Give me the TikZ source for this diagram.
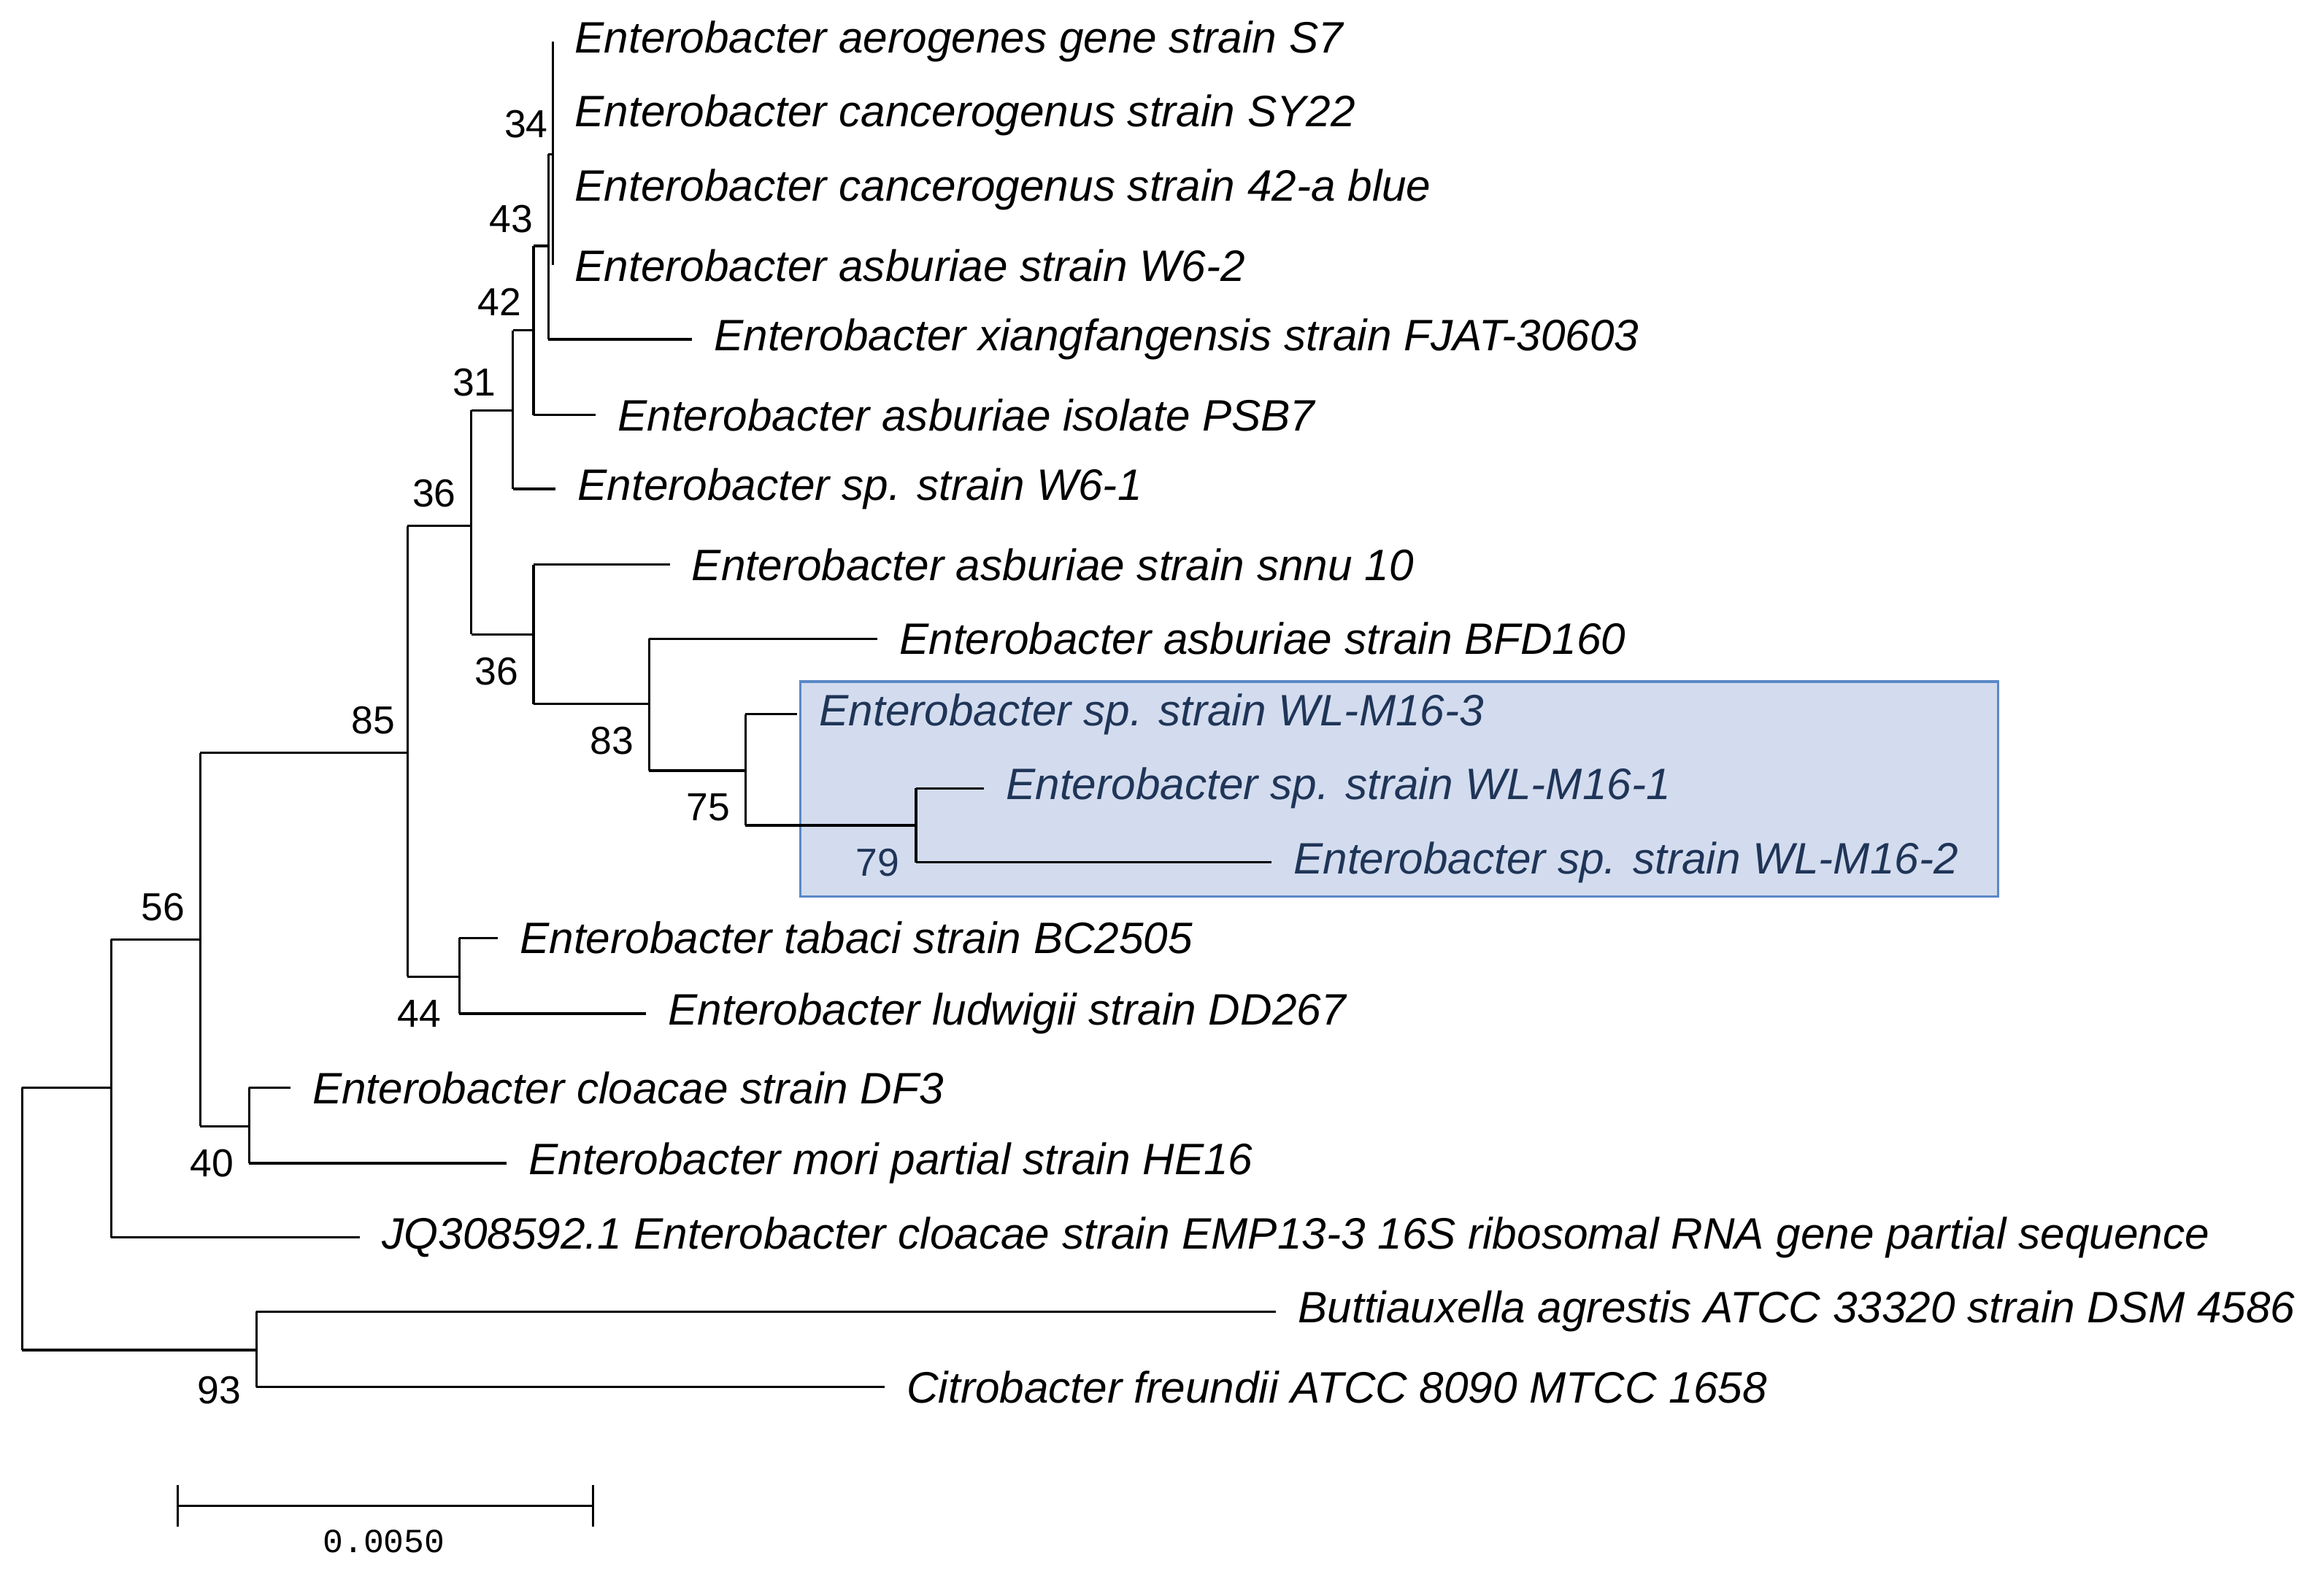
\documentclass[tikz,border=0pt]{standalone}
\usepackage{fontspec}
\setmainfont{Liberation Sans}
\newfontfamily\monof{Liberation Mono}
\definecolor{boxfill}{HTML}{D3DCEE}
\definecolor{boxline}{HTML}{5A88C6}
\definecolor{boxtext}{HTML}{1F3558}
\begin{document}
\begin{tikzpicture}[x=0.02cm,y=-0.02cm,line width=0.9pt,
 leaf/.style={anchor=west,font=\fontsize{16.9}{19}\selectfont\itshape,inner sep=0pt,xshift=8},
 bl/.style={leaf,text=boxtext},
 bs/.style={font=\fontsize{15}{17}\selectfont,inner sep=0pt}]
\useasboundingbox (0,0) rectangle (1568,1064);
\fill[boxfill, draw=boxline] (540,460) rectangle (1348,605);
\coordinate (R) at (15,823);
\coordinate (A) at (75,734);
\coordinate (B) at (135,634);
\coordinate (C) at (275,508);
\coordinate (D) at (168,760);
\coordinate (E) at (173,911);
\coordinate (F) at (318,355);
\coordinate (G) at (310,659);
\coordinate (H) at (346,277);
\coordinate (I) at (360,428);
\coordinate (J) at (438,475);
\coordinate (K) at (503,520);
\coordinate (L) at (618,557);
\coordinate (M) at (360,223);
\coordinate (N) at (370,166);
\coordinate (O) at (373,104);
\coordinate (l1) at (373,28);   \node[leaf] (t1) at (l1) {Enterobacter aerogenes gene strain S7};
\coordinate (l2) at (373,78);   \node[leaf] (t2) at (l2) {Enterobacter cancerogenus strain SY22};
\coordinate (l3) at (373,128);  \node[leaf] (t3) at (l3) {Enterobacter cancerogenus strain 42-a blue};
\coordinate (l4) at (373,179);  \node[leaf] (t4) at (l4) {Enterobacter asburiae strain W6-2};
\coordinate (l5) at (467,229);  \node[leaf] (t5) at (l5) {Enterobacter xiangfangensis strain FJAT-30603};
\coordinate (l6) at (402,280);  \node[leaf] (t6) at (l6) {Enterobacter asburiae isolate PSB7};
\coordinate (l7) at (375,330);  \node[leaf] (t7) at (l7) {Enterobacter sp. strain W6-1};
\coordinate (l8) at (452,381);  \node[leaf] (t8) at (l8) {Enterobacter asburiae strain snnu 10};
\coordinate (l9) at (592,431);  \node[leaf] (t9) at (l9) {Enterobacter asburiae strain BFD160};
\coordinate (l10) at (538,482); \node[bl] (t10) at (l10) {Enterobacter sp. strain WL-M16-3};
\coordinate (l11) at (664,532); \node[bl] (t11) at (l11) {Enterobacter sp. strain WL-M16-1};
\coordinate (l12) at (858,582); \node[bl] (t12) at (l12) {Enterobacter sp. strain WL-M16-2};
\coordinate (l13) at (336,633); \node[leaf] (t13) at (l13) {Enterobacter tabaci strain BC2505};
\coordinate (l14) at (436,684); \node[leaf] (t14) at (l14) {Enterobacter ludwigii strain DD267};
\coordinate (l15) at (196,734); \node[leaf] (t15) at (l15) {Enterobacter cloacae strain DF3};
\coordinate (l16) at (342,785); \node[leaf] (t16) at (l16) {Enterobacter mori partial strain HE16};
\coordinate (l17) at (243,835); \node[leaf] (t17) at (l17) {JQ308592.1 Enterobacter cloacae strain EMP13-3 16S ribosomal RNA gene partial sequence};
\coordinate (l18) at (861,885); \node[leaf] (t18) at (l18) {Buttiauxella agrestis ATCC 33320 strain DSM 4586};
\coordinate (l19) at (597,936); \node[leaf] (t19) at (l19) {Citrobacter freundii ATCC 8090 MTCC 1658};
\draw (l1 -| O) -- (l4 -| O);
\foreach \c in {l1,l2,l3,l4} \draw (O |- \c) -- (\c);
\draw (N |- O) -- (N |- l5); \draw (N |- O) -- (O); \draw (N |- l5) -- (l5);
\draw (M |- N) -- (M |- l6); \draw (M |- N) -- (N); \draw (M |- l6) -- (l6);
\draw (H |- M) -- (H |- l7); \draw (H |- M) -- (M); \draw (H |- l7) -- (l7);
\draw (F |- H) -- (F |- I); \draw (F |- H) -- (H); \draw (F |- I) -- (I);
\draw (I |- l8) -- (I |- J); \draw (I |- l8) -- (l8); \draw (I |- J) -- (J);
\draw (J |- l9) -- (J |- K); \draw (J |- l9) -- (l9); \draw (J |- K) -- (K);
\draw (K |- l10) -- (K |- L); \draw (K |- l10) -- (l10); \draw (K |- L) -- (L);
\draw (L |- l11) -- (L |- l12); \draw (L |- l11) -- (l11); \draw (L |- l12) -- (l12);
\draw (G |- l13) -- (G |- l14); \draw (G |- l13) -- (l13); \draw (G |- l14) -- (l14);
\draw (C |- F) -- (C |- G); \draw (C |- F) -- (F); \draw (C |- G) -- (G);
\draw (D |- l15) -- (D |- l16); \draw (D |- l15) -- (l15); \draw (D |- l16) -- (l16);
\draw (B |- C) -- (B |- D); \draw (B |- C) -- (C); \draw (B |- D) -- (D);
\draw (A |- B) -- (A |- l17); \draw (A |- B) -- (B); \draw (A |- l17) -- (l17);
\draw (E |- l18) -- (E |- l19); \draw (E |- l18) -- (l18); \draw (E |- l19) -- (l19);
\draw (R |- A) -- (R |- E); \draw (R |- A) -- (A); \draw (R |- E) -- (E);
\node[bs] (b34) at (355,84) {34};
\node[bs] (b43) at (345,148) {43};
\node[bs] (b42) at (337,204) {42};
\node[bs] (b31) at (320,258) {31};
\node[bs] (b36a) at (293,333) {36};
\node[bs] (b36b) at (335,453) {36};
\node[bs] (b83) at (413,500) {83};
\node[bs] (b75) at (478,545) {75};
\node[bs,text=boxtext] (b79) at (592,582) {79};
\node[bs] (b85) at (252,486) {85};
\node[bs] (b44) at (283,684) {44};
\node[bs] (b56) at (110,612) {56};
\node[bs] (b40) at (143,785) {40};
\node[bs] (b93) at (148,938) {93};
\coordinate (s1) at (120,1016); \coordinate (s2) at (400,1016);
\draw (s1) -- (s2);
\draw ([yshift=-8]s1) -- ([yshift=8]s1);
\draw ([yshift=-8]s2) -- ([yshift=8]s2);
\node[font=\monof\fontsize{13}{15}\selectfont] (sl) at (259,1040) {0.0050};
\end{tikzpicture}
\end{document}
